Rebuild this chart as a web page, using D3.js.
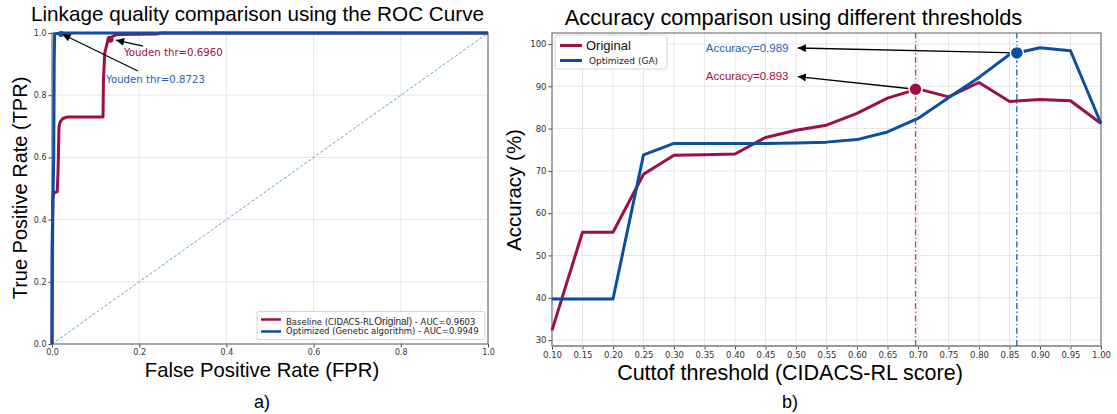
<!DOCTYPE html>
<html><head><meta charset="utf-8">
<script src="https://cdn.jsdelivr.net/npm/d3@7"></script>
<style>
html,body{margin:0;padding:0;background:#fff;}
svg{display:block;}
</style></head>
<body>
<svg id="chart" width="1117" height="414"></svg>
<script>
// ---------- DATA ----------
// Panel a) ROC curves
const baselineFPR = [0, 0.002, 0.004, 0.012, 0.014, 0.016, 0.019, 0.025, 0.035, 0.117, 0.118, 0.121, 0.128, 0.14, 0.15, 0.24, 0.25, 1.0];
const baselineTPR = [0, 0.47, 0.485, 0.49, 0.56, 0.698, 0.715, 0.725, 0.73, 0.73, 0.85, 0.936, 0.975, 0.99, 0.995, 0.997, 1.0, 1.0];
const optimizedFPR = [0, 0.0, 0.002, 0.004, 0.005, 0.006, 0.02, 1.0];
const optimizedTPR = [0, 0.3, 0.45, 0.6, 0.9, 0.997, 1.0, 1.0];
const rocLegend = ["Baseline (CIDACS-RL ", "Original)", " - AUC=0.9603", "Optimized (Genetic algorithm) - AUC=0.9949"];
const youdenLabels = ["Youden thr=0.6960", "Youden thr=0.8723"];
const youdenPoints = [[0.133, 0.98], [0.021, 0.997]];
const rocTicks = [0, 0.2, 0.4, 0.6, 0.8, 1.0];

// Panel b) accuracy vs threshold
const thresholds = [0.10,0.15,0.20,0.25,0.30,0.35,0.40,0.45,0.50,0.55,0.60,0.65,0.70,0.75,0.80,0.85,0.90,0.95,1.00];
const originalAcc = [32.3,55.5,55.5,69.2,73.7,73.8,74.0,77.9,79.6,80.8,83.6,87.2,89.4,87.5,90.9,86.4,86.9,86.6,81.2];
const optimizedAcc = [39.7,39.7,39.7,73.8,76.5,76.5,76.5,76.5,76.6,76.8,77.4,79.2,82.4,87.3,92.1,97.5,99.1,98.4,81.2];
const bestThr = [0.696, 0.862];
const bestAcc = [89.3, 97.9];
const accLabels = ["Accuracy=0.893", "Accuracy=0.989"];
const accTicksY = [30,40,50,60,70,80,90,100];
const accTicksX = thresholds;
const seriesNames = ["Original", "Optimized (GA)"];

// ---------- STYLE ----------
const RED = "#9c0f47", BLUE = "#0b4ea2", GRID = "#e6e6e6", SPINE = "#777";
const SANS = "'Liberation Sans', Arial, Helvetica, sans-serif";
const DJ = "'DejaVu Sans', sans-serif";

const svg = d3.select("#chart");
const defs = svg.append("defs");
defs.append("marker").attr("id","arr").attr("viewBox","0 0 10 10").attr("refX",10).attr("refY",5)
  .attr("markerWidth",9).attr("markerHeight",8).attr("markerUnits","userSpaceOnUse").attr("orient","auto")
  .append("path").attr("d","M0,0 L10,5 L0,10 z").attr("fill","#000");

// ---------- PANEL A ----------
{
  const x = d3.scaleLinear().domain([0,1]).range([52,488]);
  const y = d3.scaleLinear().domain([0,1]).range([344,33]);
  const g = svg.append("g");
  g.append("g").selectAll("line").data(rocTicks).join("line")
    .attr("x1",d=>x(d)).attr("x2",d=>x(d)).attr("y1",y(0)).attr("y2",y(1)).attr("stroke",GRID);
  g.append("g").selectAll("line").data(rocTicks).join("line")
    .attr("y1",d=>y(d)).attr("y2",d=>y(d)).attr("x1",x(0)).attr("x2",x(1)).attr("stroke",GRID);
  const ax = g.append("g").attr("transform",`translate(0,${y(0)})`)
    .call(d3.axisBottom(x).tickValues(rocTicks).tickFormat(d3.format(".1f")).tickSize(3.5).tickPadding(2));
  const ay = g.append("g").attr("transform",`translate(${x(0)},0)`)
    .call(d3.axisLeft(y).tickValues(rocTicks).tickFormat(d3.format(".1f")).tickSize(3.5).tickPadding(2));
  [ax,ay].forEach(a=>{a.select(".domain").remove();a.selectAll("line").attr("stroke","#444");
    a.selectAll("text").attr("font-family",DJ).attr("font-size",8).attr("fill","#333");});
  g.append("rect").attr("x",x(0)).attr("y",y(1)).attr("width",x(1)-x(0)).attr("height",y(0)-y(1))
    .attr("fill","none").attr("stroke",SPINE).attr("stroke-width",1.2);
  g.append("path").attr("d",d3.line()([[x(0),y(0)],[x(1),y(1)]])).attr("stroke","#4f93d2")
    .attr("stroke-width",0.9).attr("stroke-dasharray","3,2").attr("fill","none");
  const line = d3.line().x(d=>x(d[0])).y(d=>y(d[1]));
  g.append("path").attr("d",line(d3.zip(baselineFPR,baselineTPR))).attr("stroke",RED).attr("stroke-width",3)
    .attr("fill","none").attr("stroke-linejoin","round");
  g.append("path").attr("d",line(d3.zip(optimizedFPR,optimizedTPR))).attr("stroke",BLUE).attr("stroke-width",3)
    .attr("fill","none").attr("stroke-linejoin","round");
  g.append("circle").attr("cx",x(youdenPoints[0][0])).attr("cy",y(youdenPoints[0][1])).attr("r",3.5).attr("fill",RED);
  g.append("circle").attr("cx",x(youdenPoints[1][0])).attr("cy",y(youdenPoints[1][1])).attr("r",3).attr("fill",BLUE);
  g.append("line").attr("x1",x(0.209)).attr("y1",y(0.958)).attr("x2",x(0.147)).attr("y2",y(0.977))
    .attr("stroke","#000").attr("stroke-width",1.2).attr("marker-end","url(#arr)");
  g.append("line").attr("x1",x(0.197)).attr("y1",y(0.878)).attr("x2",x(0.024)).attr("y2",y(0.996))
    .attr("stroke","#000").attr("stroke-width",1.2).attr("marker-end","url(#arr)");
  g.append("text").attr("x",x(0.165)).attr("y",y(0.936)).attr("dy","0.35em").text(youdenLabels[0])
    .attr("font-family",DJ).attr("font-size",10.2).attr("fill",RED);
  g.append("text").attr("x",x(0.124)).attr("y",y(0.852)).attr("dy","0.35em").text(youdenLabels[1])
    .attr("font-family",DJ).attr("font-size",10.2).attr("fill","#2462b0");
  // legend
  const lg = g.append("g");
  lg.append("rect").attr("x",257).attr("y",311.5).attr("width",228).attr("height",28).attr("rx",2)
    .attr("fill","#fff").attr("fill-opacity",0.85).attr("stroke","#ccc").attr("stroke-width",0.8);
  lg.append("line").attr("x1",261).attr("x2",281).attr("y1",319.5).attr("y2",319.5).attr("stroke",RED).attr("stroke-width",2.5);
  lg.append("line").attr("x1",261).attr("x2",281).attr("y1",331.5).attr("y2",331.5).attr("stroke",BLUE).attr("stroke-width",2.5);
  const t1 = lg.append("text").attr("x",286).attr("y",319.5).attr("dy","0.35em").attr("fill","#222");
  t1.append("tspan").attr("font-family",DJ).attr("font-size",8.5).text(rocLegend[0]);
  t1.append("tspan").attr("font-family",SANS).attr("font-size",10).attr("dx",-2).text(rocLegend[1]);
  t1.append("tspan").attr("font-family",DJ).attr("font-size",8.5).text(rocLegend[2]);
  lg.append("text").attr("x",286).attr("y",331.5).attr("dy","0.35em").attr("fill","#222")
    .attr("font-family",DJ).attr("font-size",8.5).text(rocLegend[3]);
  // titles
  g.append("text").attr("x",257.5).attr("y",21).attr("text-anchor","middle").attr("font-family",SANS)
    .attr("font-size",20.7).text("Linkage quality comparison using the ROC Curve");
  g.append("text").attr("x",262).attr("y",377).attr("text-anchor","middle").attr("font-family",SANS)
    .attr("font-size",20.3).text("False Positive Rate (FPR)");
  g.append("text").attr("transform","translate(27,188) rotate(-90)").attr("text-anchor","middle").attr("font-family",SANS)
    .attr("font-size",20).text("True Positive Rate (TPR)");
  g.append("text").attr("x",262).attr("y",408).attr("text-anchor","middle").attr("font-family",SANS)
    .attr("font-size",18).text("a)");
}

// ---------- PANEL B ----------
{
  const x = d3.scaleLinear().domain([0.1,1.0]).range([552,1101]);
  const y = d3.scaleLinear().domain([28.6,102.6]).range([346,33]);
  const g = svg.append("g");
  g.append("g").selectAll("line").data(accTicksX).join("line")
    .attr("x1",d=>x(d)).attr("x2",d=>x(d)).attr("y1",y.range()[0]).attr("y2",y.range()[1]).attr("stroke",GRID);
  g.append("g").selectAll("line").data(accTicksY).join("line")
    .attr("y1",d=>y(d)).attr("y2",d=>y(d)).attr("x1",x(0.1)).attr("x2",x(1)).attr("stroke",GRID);
  const ax = g.append("g").attr("transform",`translate(0,${y.range()[0]})`)
    .call(d3.axisBottom(x).tickValues(accTicksX).tickFormat(d3.format(".2f")).tickSize(3.5).tickPadding(2));
  const ay = g.append("g").attr("transform",`translate(${x(0.1)},0)`)
    .call(d3.axisLeft(y).tickValues(accTicksY).tickFormat(d3.format("d")).tickSize(3.5).tickPadding(2));
  [ax,ay].forEach(a=>{a.select(".domain").remove();a.selectAll("line").attr("stroke","#444");
    a.selectAll("text").attr("font-family",DJ).attr("font-size",8.5).attr("fill","#333");});
  g.append("rect").attr("x",x(0.1)).attr("y",y.range()[1]).attr("width",x(1)-x(0.1)).attr("height",y.range()[0]-y.range()[1])
    .attr("fill","none").attr("stroke",SPINE).attr("stroke-width",1.2);
  g.append("line").attr("x1",x(0.1)).attr("x2",x(1)).attr("y1",y.range()[0]).attr("y2",y.range()[0])
    .attr("stroke","#999").attr("stroke-width",2.2);
  ["#c2386e", "#1a5cc4"].forEach((c,i)=>{
    g.append("line").attr("x1",x(bestThr[i])).attr("x2",x(bestThr[i])).attr("y1",y.range()[0]).attr("y2",y.range()[1])
      .attr("stroke",c).attr("stroke-width",1.3).attr("stroke-dasharray","6,2.5,1.3,2.5");
  });
  const line = d3.line().x(d=>x(d[0])).y(d=>y(d[1]));
  g.append("path").attr("d",line(d3.zip(thresholds,originalAcc))).attr("stroke",RED).attr("stroke-width",3)
    .attr("fill","none").attr("stroke-linejoin","round");
  g.append("path").attr("d",line(d3.zip(thresholds,optimizedAcc))).attr("stroke",BLUE).attr("stroke-width",3)
    .attr("fill","none").attr("stroke-linejoin","round");
  g.append("line").attr("x1",x(bestThr[1])).attr("y1",y(bestAcc[1])).attr("x2",x(0.503)).attr("y2",y(99.05))
    .attr("stroke","#000").attr("stroke-width",1.3).attr("marker-end","url(#arr)");
  g.append("line").attr("x1",x(bestThr[0])).attr("y1",y(bestAcc[0])).attr("x2",x(0.503)).attr("y2",y(92.3))
    .attr("stroke","#000").attr("stroke-width",1.3).attr("marker-end","url(#arr)");
  [RED, BLUE].forEach((c,i)=>{
    g.append("circle").attr("cx",x(bestThr[i])).attr("cy",y(bestAcc[i])).attr("r",6.5)
      .attr("fill",c).attr("stroke","#fff").attr("stroke-width",1.5);
  });
  g.append("text").attr("x",x(0.352)).attr("y",y(99.05)).attr("dy","0.35em").text(accLabels[1])
    .attr("font-family",SANS).attr("font-size",11.5).attr("fill","#2462b0");
  g.append("text").attr("x",x(0.352)).attr("y",y(92.4)).attr("dy","0.35em").text(accLabels[0])
    .attr("font-family",SANS).attr("font-size",11.5).attr("fill",RED);
  const lg = g.append("g");
  lg.append("rect").attr("x",555).attr("y",35).attr("width",112).attr("height",34).attr("rx",3)
    .attr("fill","#fff").attr("stroke","#ccc").attr("stroke-width",0.8);
  lg.append("line").attr("x1",560).attr("x2",582).attr("y1",45.5).attr("y2",45.5).attr("stroke",RED).attr("stroke-width",3);
  lg.append("line").attr("x1",560).attr("x2",582).attr("y1",60.5).attr("y2",60.5).attr("stroke",BLUE).attr("stroke-width",3);
  lg.append("text").attr("x",586).attr("y",45.5).attr("dy","0.35em").attr("font-family",SANS).attr("font-size",13)
    .attr("fill","#111").text(seriesNames[0]);
  lg.append("text").attr("x",589).attr("y",61).attr("dy","0.35em").attr("font-family",DJ).attr("font-size",9)
    .attr("fill","#222").text(seriesNames[1]);
  g.append("text").attr("x",793.5).attr("y",25).attr("text-anchor","middle").attr("font-family",SANS)
    .attr("font-size",21.8).text("Accuracy comparison using different thresholds");
  g.append("text").attr("x",790).attr("y",380).attr("text-anchor","middle").attr("font-family",SANS)
    .attr("font-size",21.5).text("Cuttof threshold (CIDACS-RL score)");
  g.append("text").attr("transform","translate(521,190) rotate(-90)").attr("text-anchor","middle").attr("font-family",SANS)
    .attr("font-size",20.5).text("Accuracy (%)");
  g.append("text").attr("x",790).attr("y",408).attr("text-anchor","middle").attr("font-family",SANS)
    .attr("font-size",18).text("b)");
}
</script>
</body></html>
